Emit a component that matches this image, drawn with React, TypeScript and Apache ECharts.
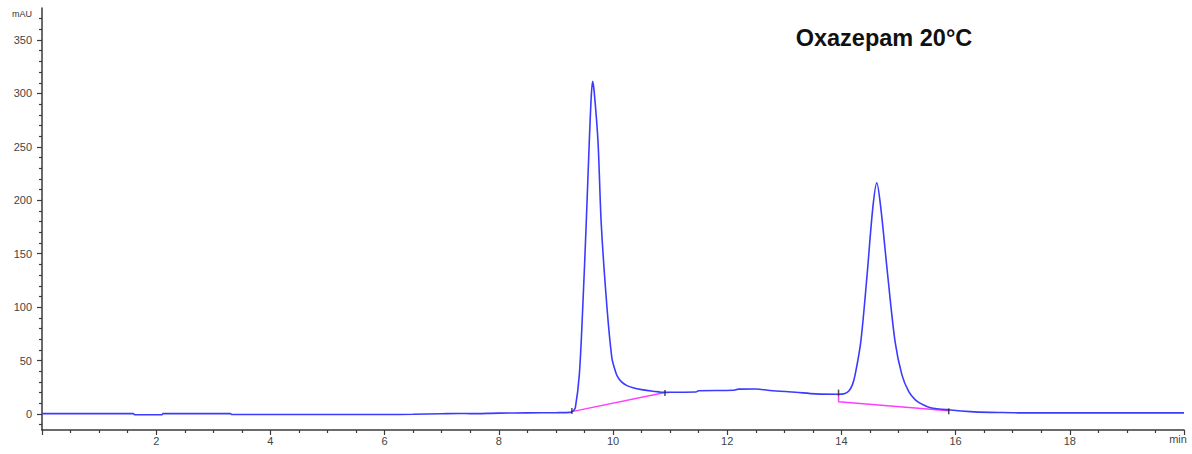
import React, { useEffect, useRef } from "react";
import * as echarts from "echarts";

// Chromatogram trace (time in min, signal in mAU)
const timeMin: number[] = [
  0, 1.6, 1.62, 2.1, 2.12, 3.3, 3.32, 6.0, 6.5, 7.0, 7.3, 7.5, 8.0, 8.5, 9.0, 9.25,
  9.28, 9.305, 9.34, 9.41, 9.47, 9.53, 9.585, 9.62, 9.643, 9.67, 9.737, 9.795, 9.895,
  9.98, 10.03, 10.07, 10.15, 10.245, 10.35, 10.5, 10.7, 10.91, 11.0, 11.45, 11.5, 12.1, 12.2, 12.5,
  12.75, 13.2, 13.55, 13.95, 14.05, 14.13, 14.19, 14.24, 14.34, 14.45, 14.55, 14.62, 14.69,
  14.81, 14.94, 15.06, 15.18, 15.3, 15.44, 15.56, 15.91, 16.26, 16.6, 17.0, 17.1, 20.0,
];
const signalMAU: number[] = [
  0.3, 0.3, -0.7, -0.7, 0.3, 0.3, -0.5, -0.5, -0.3, 0.2, 0.5, 0.3, 0.8, 1.0, 1.2, 1.5,
  2.2, 3, 5.6, 36.6, 99.4, 177.2, 255.3, 298, 311.3, 302, 255.3, 177.2, 99.4,
  52.5, 42, 36, 30, 26.5, 24.5, 22.8, 21.3, 20.2, 20.3, 20.5, 21.8, 22.2, 23.3, 23.4,
  22, 20.3, 18.8, 18.5, 19, 21.5, 27, 36.6, 67.8, 130.3, 192.9, 216.3, 192.9,
  130.3, 67.8, 36.6, 20.9, 13, 8.4, 5.9, 3.75, 2.2, 1.5, 1.2, 1.0, 1.0,
];

// Integration baselines (pink)
const baseline1T: number[] = [9.28, 10.91];
const baseline1V: number[] = [2.2, 20];
const baseline2T: number[] = [13.95, 13.95, 15.88];
const baseline2V: number[] = [18.5, 11.5, 3.1];

// Peak start/end tick marks
const markT: number[] = [9.28, 10.91, 13.95, 15.88];
const markV: number[] = [2.8, 19.7, 20, 2.5];

// Axis ticks
const yMajor: number[] = [0, 50, 100, 150, 200, 250, 300, 350];
const yMinor: number[] = [-10, 10, 20, 30, 40, 60, 70, 80, 90, 110, 120, 130, 140, 160, 170, 180, 190,
  210, 220, 230, 240, 260, 270, 280, 290, 310, 320, 330, 340, 360, 370];

const titleText = "Oxazepam 20°C";

const zip = (a: number[], b: number[]) => a.map((v, i) => [v, b[i]]);

export default function App() {
  const ref = useRef<HTMLDivElement>(null);
  useEffect(() => {
    if (!ref.current) return;
    const chart = echarts.init(ref.current, undefined, { renderer: "svg" });
    const axisColor = "#3a3a3a";
    const labelStyle = { color: "#444", fontFamily: "Liberation Sans, Arial, sans-serif", fontSize: 11 };
    chart.setOption({
      animation: false,
      backgroundColor: "#ffffff",
      grid: { left: 42, right: 8, top: 8, bottom: 24 },
      xAxis: {
        type: "value",
        min: 0,
        max: 20,
        interval: 2,
        axisLine: { show: true, onZero: false, lineStyle: { color: axisColor, width: 1.5 } },
        axisTick: { show: true, length: 5, lineStyle: { color: axisColor, width: 1.2 } },
        minorTick: { show: true, splitNumber: 4, length: 3, lineStyle: { color: axisColor, width: 1.2 } },
        splitLine: { show: false },
        minorSplitLine: { show: false },
        axisLabel: {
          ...labelStyle,
          margin: 5,
          formatter: (v: number) => (v === 0 || v === 20 ? "" : String(v)),
        },
      },
      yAxis: [
        {
          type: "value",
          min: -15,
          max: 380,
          position: "left",
          axisLine: { show: true, onZero: false, lineStyle: { color: axisColor, width: 1.5 } },
          axisTick: { show: true, length: 5, customValues: yMajor, lineStyle: { color: axisColor, width: 1.2 } },
          axisLabel: { ...labelStyle, margin: 10, customValues: yMajor },
          splitLine: { show: false },
        },
        {
          type: "value",
          min: -15,
          max: 380,
          position: "left",
          axisLine: { show: false },
          axisTick: { show: true, length: 3, customValues: yMinor, lineStyle: { color: axisColor, width: 1.2 } },
          axisLabel: { show: false },
          splitLine: { show: false },
        },
      ],
      graphic: [
        {
          type: "text",
          x: 884,
          y: 38,
          style: {
            text: titleText,
            fill: "#111",
            font: "bold 23.5px Liberation Sans, Arial, sans-serif",
            align: "center",
            verticalAlign: "middle",
          },
        },
        {
          type: "text",
          x: 32,
          y: 14,
          style: {
            text: "mAU",
            fill: "#333",
            font: "9px Liberation Sans, Arial, sans-serif",
            align: "right",
            verticalAlign: "middle",
          },
        },
        {
          type: "text",
          x: 1178,
          y: 439,
          style: {
            text: "min",
            fill: "#444",
            font: "11px Liberation Sans, Arial, sans-serif",
            align: "center",
            verticalAlign: "middle",
          },
        },
      ],
      series: [
        {
          type: "line",
          data: zip(baseline1T, baseline1V),
          showSymbol: false,
          lineStyle: { color: "#ff3cff", width: 1.5 },
          z: 2,
        },
        {
          type: "line",
          data: zip(baseline2T, baseline2V),
          showSymbol: false,
          lineStyle: { color: "#ff3cff", width: 1.5 },
          z: 2,
        },
        {
          type: "line",
          data: zip(timeMin, signalMAU),
          showSymbol: false,
          smooth: 0.3,
          lineStyle: { color: "#3b3bff", width: 1.6 },
          z: 3,
        },
        {
          type: "scatter",
          data: zip(markT, markV),
          symbol: "rect",
          symbolSize: [1.5, 6],
          itemStyle: { color: "#222" },
          z: 4,
        },
      ],
    });
    return () => chart.dispose();
  }, []);
  return (
    <div
      ref={ref}
      style={{ position: "fixed", left: 0, top: 0, width: 1192, height: 454, background: "#fff" }}
    />
  );
}
